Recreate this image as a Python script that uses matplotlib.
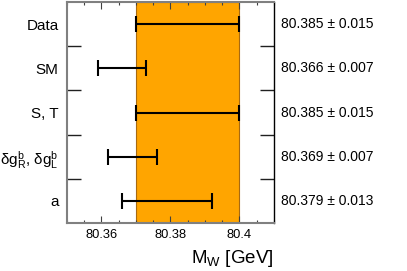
import matplotlib
matplotlib.use("Agg")
import matplotlib.pyplot as plt
from matplotlib.ticker import MultipleLocator, FormatStrFormatter
import matplotlib.transforms as mtransforms

plt.rcParams['font.family'] = ['Liberation Sans', 'DejaVu Sans']
plt.rcParams['mathtext.fontset'] = 'custom'
plt.rcParams['mathtext.rm'] = 'Liberation Sans'
plt.rcParams['mathtext.it'] = 'Liberation Sans'

labels = ['Data', 'SM', 'S, T',
          r'δ$\mathregular{g^b_R}$, δ$\mathregular{g^b_L}$', 'a']
centers = [80.385, 80.366, 80.385, 80.369, 80.379]
errors = [0.015, 0.007, 0.015, 0.007, 0.013]
texts = ['80.385 ± 0.015', '80.366 ± 0.007', '80.385 ± 0.015',
         '80.369 ± 0.007', '80.379 ± 0.013']
band_lo, band_hi = 80.370, 80.400

fig = plt.figure(figsize=(4.07, 2.71), dpi=100)
ax = fig.add_axes([0.1646, 0.177, 0.5086, 0.8156])

n = len(labels)
ypos = [n - 1 - i for i in range(n)]

ax.axvspan(band_lo, band_hi, facecolor='#FFA500', edgecolor='#A86A10', lw=0.8, zorder=1)
ax.errorbar(centers, ypos, xerr=errors, fmt='none', ecolor='black',
            elinewidth=1.5, capsize=5.8, capthick=1.5, zorder=3)

ax.set_xlim(80.35, 80.41)
ax.set_ylim(-0.5, n - 0.5)

ax.xaxis.set_major_locator(MultipleLocator(0.02))
ax.xaxis.set_minor_locator(MultipleLocator(0.005))
ax.xaxis.set_major_formatter(FormatStrFormatter('%g'))
ax.tick_params(axis='x', which='major', direction='in', length=5, width=0.8,
               top=True, bottom=True, labelsize=9.3, pad=4, color='#404040')
ax.tick_params(axis='x', which='minor', direction='in', length=2.5, width=0.8,
               top=True, bottom=True, color='#404040')

ax.set_yticks(ypos)
ax.set_yticklabels(labels)
ax.set_yticks([i + 0.5 for i in range(n - 1)], minor=True)
ax.tick_params(axis='y', which='major', length=0, labelsize=11, pad=6)
ax.tick_params(axis='y', which='minor', direction='in', length=10, width=1.0,
               left=True, right=True, color='#202020')

for side in ['left', 'top', 'bottom']:
    ax.spines[side].set_color('#808080')
    ax.spines[side].set_linewidth(1.5)
ax.spines['right'].set_color('black')
ax.spines['right'].set_linewidth(1.0)

trans = mtransforms.blended_transform_factory(ax.transAxes, ax.transData)
for y, t in zip(ypos, texts):
    ax.text(1.034, y, t, transform=trans, ha='left', va='center', fontsize=10)

ax.set_xlabel(r'$\mathregular{M_W}$ [GeV]', fontsize=13.5, loc='right', labelpad=5)

fig.savefig('out.png', dpi=100)
